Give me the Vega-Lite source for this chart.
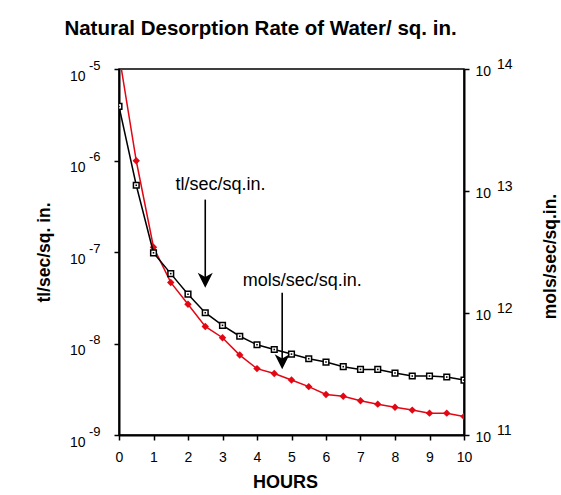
{
  "$schema": "https://vega.github.io/schema/vega-lite/v6.json",
  "autosize": {"type": "none"},
  "width": 345,
  "height": 366,
  "padding": {"left": 119, "top": 69, "right": 97, "bottom": 60},
  "background": "white",
  "config": {
    "font": "Liberation Sans",
    "view": {"stroke": "black", "strokeWidth": 1.5},
    "axis": {
      "grid": false,
      "domainColor": "black",
      "domainWidth": 2,
      "tickColor": "black",
      "tickWidth": 1.5,
      "labelColor": "black",
      "titleColor": "black",
      "labelFont": "Liberation Sans",
      "titleFont": "Liberation Sans",
      "labelOverlap": false,
      "labelFlush": false,
      "labelBound": false
    }
  },
  "title": {
    "text": "Natural Desorption Rate of Water/ sq. in.",
    "fontSize": 20.5,
    "fontWeight": "bold",
    "font": "Liberation Sans",
    "color": "black",
    "anchor": "middle",
    "dx": -31,
    "offset": 18
  },
  "datasets": {
    "tl": [
      {"h": 0, "v": 3.9e-6}, {"h": 0.5, "v": 5.36e-7}, {"h": 1, "v": 9.8e-8},
      {"h": 1.5, "v": 5.8e-8}, {"h": 2, "v": 3.46e-8}, {"h": 2.5, "v": 2.17e-8},
      {"h": 3, "v": 1.58e-8}, {"h": 3.5, "v": 1.2e-8}, {"h": 4, "v": 9.7e-9},
      {"h": 4.5, "v": 8.6e-9}, {"h": 5, "v": 7.66e-9}, {"h": 5.5, "v": 6.82e-9},
      {"h": 6, "v": 6.27e-9}, {"h": 6.5, "v": 5.58e-9}, {"h": 7, "v": 5.21e-9},
      {"h": 7.5, "v": 5.21e-9}, {"h": 8, "v": 4.75e-9}, {"h": 8.5, "v": 4.41e-9},
      {"h": 9, "v": 4.41e-9}, {"h": 9.5, "v": 4.3e-9}, {"h": 10, "v": 3.98e-9}
    ],
    "mols": [
      {"h": 0, "v": 1.32e14}, {"h": 0.5, "v": 1.77e13}, {"h": 1, "v": 3.46e12},
      {"h": 1.5, "v": 1.78e12}, {"h": 2, "v": 1.18e12}, {"h": 2.5, "v": 7.76e11},
      {"h": 3, "v": 6.27e11}, {"h": 3.5, "v": 4.52e11}, {"h": 4, "v": 3.5e11},
      {"h": 4.5, "v": 3.19e11}, {"h": 5, "v": 2.82e11}, {"h": 5.5, "v": 2.49e11},
      {"h": 6, "v": 2.15e11}, {"h": 6.5, "v": 2.08e11}, {"h": 7, "v": 1.91e11},
      {"h": 7.5, "v": 1.79e11}, {"h": 8, "v": 1.69e11}, {"h": 8.5, "v": 1.6e11},
      {"h": 9, "v": 1.51e11}, {"h": 9.5, "v": 1.51e11}, {"h": 10, "v": 1.42e11}
    ],
    "arrows": [
      {"h": 2.5, "start": 3.74e-7, "end": 4.91e-8},
      {"h": 4.73, "start": 3.59e-8, "end": 6.3e-9}
    ],
    "notes": [
      {"h": 2.94, "v": 4.73e-7, "t": "tl/sec/sq.in."},
      {"h": 5.31, "v": 4.3e-8, "t": "mols/sec/sq.in."}
    ]
  },
  "encoding": {
    "x": {
      "field": "h",
      "type": "quantitative",
      "scale": {"domain": [0, 10], "nice": false, "zero": false},
      "axis": {
        "title": "HOURS",
        "titleFontSize": 18,
        "titleFontWeight": "bold",
        "titleX": 166,
        "titleY": 52,
        "titleBaseline": "alphabetic",
        "values": [0, 1, 2, 3, 4, 5, 6, 7, 8, 9, 10],
        "format": "d",
        "tickSize": 5,
        "labelFontSize": 14,
        "labelPadding": 10
      }
    }
  },
  "resolve": {"scale": {"y": "independent"}, "axis": {"y": "independent"}},
  "layer": [
    {
      "data": {"name": "mols"},
      "mark": {"type": "line", "color": "#e30613", "strokeWidth": 1.5, "clip": true},
      "encoding": {
        "y": {
          "field": "v",
          "type": "quantitative",
          "scale": {"type": "log", "domain": [1e11, 1e14], "nice": false},
          "axis": {
            "orient": "right",
            "title": "mols/sec/sq.in.",
            "titleFontSize": 17.5,
            "titleFontWeight": "bold",
            "titleAngle": 270,
            "titleX": 86,
            "titleY": 187,
            "titleBaseline": "middle",
            "titleAlign": "center",
            "values": [1e11, 1e12, 1e13, 1e14],
            "labelExpr": "'10'",
            "labelAlign": "left",
            "labelBaseline": "middle",
            "labelFontSize": 14,
            "labelOffset": 2,
            "tickSize": 5,
            "labelPadding": 6
          }
        }
      }
    },
    {
      "data": {"name": "mols"},
      "mark": {"type": "point", "shape": "diamond", "filled": true, "color": "#e30613", "size": 55, "opacity": 1, "clip": true},
      "encoding": {
        "y": {
          "field": "v",
          "type": "quantitative",
          "scale": {"type": "log", "domain": [1e11, 1e14], "nice": false},
          "axis": {
            "orient": "right",
            "title": null,
            "domain": false,
            "ticks": false,
            "tickSize": 0,
            "values": [1e11, 1e12, 1e13, 1e14],
            "labelExpr": "'' + round(log(datum.value) / LN10)",
            "labelAlign": "left",
            "labelBaseline": "middle",
            "labelFontSize": 14,
            "labelOffset": -5,
            "labelPadding": 32.5
          }
        }
      }
    },
    {
      "data": {"name": "tl"},
      "mark": {"type": "line", "color": "black", "strokeWidth": 1.5, "clip": true},
      "encoding": {
        "y": {
          "field": "v",
          "type": "quantitative",
          "scale": {"type": "log", "domain": [1e-9, 1e-5], "nice": false},
          "axis": {
            "orient": "left",
            "title": "tl/sec/sq. in.",
            "titleFontSize": 17.5,
            "titleFontWeight": "bold",
            "titleAngle": 270,
            "titleX": -75,
            "titleY": 183,
            "titleBaseline": "middle",
            "titleAlign": "center",
            "values": [1e-9, 1e-8, 1e-7, 1e-6, 1e-5],
            "labelExpr": "'10'",
            "labelAlign": "right",
            "labelBaseline": "middle",
            "labelFontSize": 14,
            "labelOffset": 7,
            "tickSize": 5,
            "labelPadding": 29
          }
        }
      }
    },
    {
      "data": {"name": "tl"},
      "mark": {"type": "point", "shape": "square", "filled": true, "fill": "white", "stroke": "black", "strokeWidth": 1.5, "size": 32, "opacity": 1, "clip": true},
      "encoding": {
        "y": {
          "field": "v",
          "type": "quantitative",
          "scale": {"type": "log", "domain": [1e-9, 1e-5], "nice": false},
          "axis": {
            "orient": "left",
            "title": null,
            "domain": false,
            "ticks": false,
            "tickSize": 0,
            "values": [1e-9, 1e-8, 1e-7, 1e-6, 1e-5],
            "labelExpr": "'' + round(log(datum.value) / LN10)",
            "labelAlign": "left",
            "labelBaseline": "middle",
            "labelFontSize": 13,
            "labelOffset": -4,
            "labelPadding": 30.5
          }
        }
      }
    },
    {
      "data": {"name": "tl"},
      "mark": {"type": "point", "shape": "square", "filled": true, "color": "black", "size": 2.5, "opacity": 1, "clip": true},
      "encoding": {
        "y": {
          "field": "v",
          "type": "quantitative",
          "scale": {"type": "log", "domain": [1e-9, 1e-5], "nice": false},
          "axis": null
        }
      }
    },
    {
      "data": {"name": "arrows"},
      "mark": {"type": "rule", "color": "black", "strokeWidth": 1.6},
      "encoding": {
        "y": {
          "field": "start",
          "type": "quantitative",
          "scale": {"type": "log", "domain": [1e-9, 1e-5], "nice": false},
          "axis": null
        },
        "y2": {"field": "end"}
      }
    },
    {
      "data": {"name": "arrows"},
      "mark": {"type": "point", "shape": "M0,1L-1,-1L0,-0.45L1,-1Z", "filled": true, "color": "black", "size": 225, "opacity": 1},
      "encoding": {
        "y": {
          "field": "end",
          "type": "quantitative",
          "scale": {"type": "log", "domain": [1e-9, 1e-5], "nice": false},
          "axis": null
        }
      }
    },
    {
      "data": {"name": "notes"},
      "mark": {"type": "text", "fontSize": 18, "font": "Liberation Sans", "color": "black", "align": "center", "baseline": "alphabetic"},
      "encoding": {
        "y": {
          "field": "v",
          "type": "quantitative",
          "scale": {"type": "log", "domain": [1e-9, 1e-5], "nice": false},
          "axis": null
        },
        "text": {"field": "t"}
      }
    }
  ]
}
